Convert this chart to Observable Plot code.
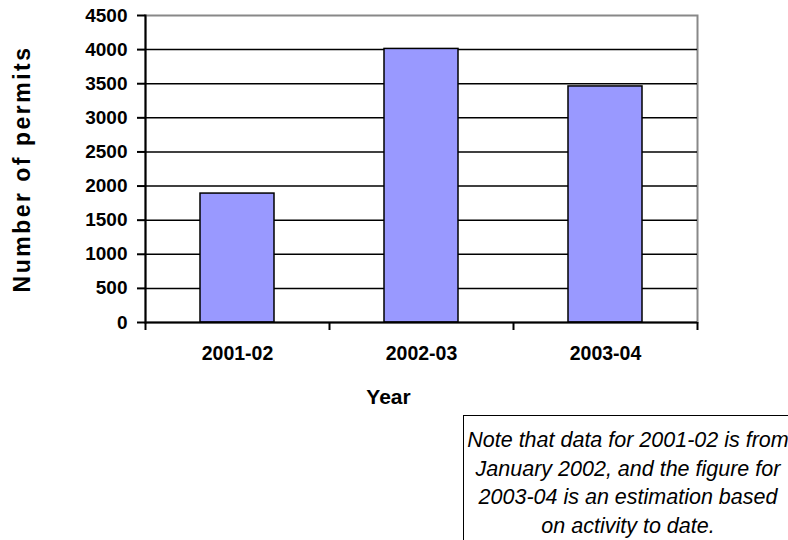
<!DOCTYPE html>
<html><head><meta charset="utf-8">
<script src="https://cdn.jsdelivr.net/npm/d3@7"></script>
<script src="https://cdn.jsdelivr.net/npm/@observablehq/plot@0.6"></script>
<style>
body{margin:0;background:#fff;}
#wrap{position:relative;width:788px;height:540px;overflow:hidden;font-family:"Liberation Sans",Arial,sans-serif;}
#note{position:absolute;left:463px;top:415px;width:330px;height:140px;border:1.5px solid #000;box-sizing:border-box;font-style:italic;font-size:21.5px;line-height:28.5px;text-align:center;padding-top:10px;color:#000;white-space:nowrap;}
</style></head><body><div id="wrap"></div>
<script>
const years = ["2001-02", "2002-03", "2003-04"];
const permits = [1890, 4010, 3460];
const yTicks = [0, 500, 1000, 1500, 2000, 2500, 3000, 3500, 4000, 4500];
const xTitle = "Year";
const yTitle = "Number of permits";
const noteLines = ["Note that data for 2001-02 is from", "January 2002, and the figure for", "2003-04 is an estimation based", "on activity to date."];

const data = years.map((year, i) => ({year, permits: permits[i]}));
const font = "'Liberation Sans', Arial, sans-serif";

const chart = Plot.plot({
  width: 788, height: 540,
  marginLeft: 145, marginRight: 91, marginTop: 15, marginBottom: 218,
  style: {fontFamily: font, background: "white", color: "black"},
  x: {domain: years, paddingInner: 0.6, paddingOuter: 0.3},
  y: {domain: [0, 4500]},
  marks: [
    Plot.frame({stroke: "#888", strokeWidth: 2}),
    Plot.ruleY(yTicks.filter(d => d > 0 && d < 4500), {stroke: "black", strokeWidth: 1.5}),
    Plot.barY(data, {x: "year", y: "permits", fill: "#9999ff", stroke: "black", strokeWidth: 1.5}),
    Plot.ruleY([0], {stroke: "black", strokeWidth: 2}),
    Plot.frame({anchor: "left", stroke: "black", strokeWidth: 2}),
    Plot.axisY(yTicks, {tickSize: 8, tickPadding: 10, tickFormat: d => String(d), fontSize: 19, fontWeight: "bold", strokeWidth: 2, label: null}),
    Plot.axisX(years, {tickSize: 8, dx: -92, tickFormat: () => "", strokeWidth: 2, label: null}),
    Plot.axisX([years[2]], {tickSize: 8, dx: 92, tickFormat: () => "", strokeWidth: 2, label: null}),
    Plot.axisX(years, {tickSize: 0, tickPadding: 24, fontSize: 19.5, fontWeight: "bold", label: null}),
    Plot.text([yTitle], {text: d => d, frameAnchor: "left", textAnchor: "middle", rotate: -90, dx: -123, dy: 0, fontSize: 23, fontWeight: "bold"}),
    Plot.text([xTitle], {text: d => d, frameAnchor: "bottom", dx: -33, dy: 81, fontSize: 21, fontWeight: "bold"})
  ]
});
d3.select(chart).selectAll("text")
  .filter(function() { return this.textContent === yTitle; })
  .style("letter-spacing", "2.5px");
const wrap = document.getElementById("wrap");
wrap.appendChild(chart);
const note = document.createElement("div");
note.id = "note";
note.innerHTML = noteLines.map(s => s.replace(/&/g, "&amp;")).join("<br>");
wrap.appendChild(note);
</script>
</body></html>
